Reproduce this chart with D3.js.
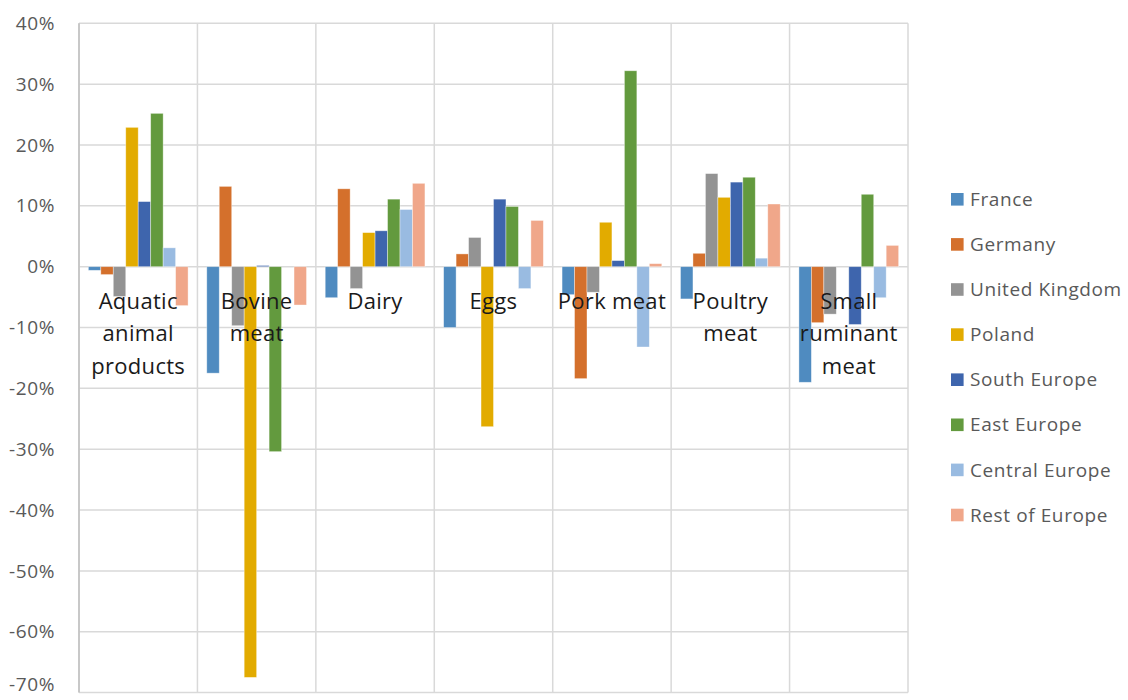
<!DOCTYPE html>
<html>
<head>
<meta charset="utf-8">
<script src="https://cdn.jsdelivr.net/npm/d3@7"></script>
<style>
  html, body { margin: 0; padding: 0; background: #fff; }
  svg { display: block; }
</style>
</head>
<body>
<svg id="chart" width="1128" height="700"></svg>
<script>
// ---- Data ----
const categories = [
  ["Aquatic", "animal", "products"],
  ["Bovine", "meat"],
  ["Dairy"],
  ["Eggs"],
  ["Pork meat"],
  ["Poultry", "meat"],
  ["Small", "ruminant", "meat"]
];
const seriesNames = ["France", "Germany", "United Kingdom", "Poland", "South Europe", "East Europe", "Central Europe", "Rest of Europe"];
const seriesColors = ["#4f8bc0", "#d4702c", "#939393", "#e2ab00", "#3e65ad", "#639a3e", "#99bbe1", "#f0a78a"];
// values in % per series, one per category
const france   = [-0.6, -17.5, -5.1, -10.0, -4.6, -5.3, -19.0];
const germany  = [-1.3, 13.2, 12.8, 2.1, -18.4, 2.2, -9.2];
const uk       = [-4.9, -9.7, -3.6, 4.8, -4.2, 15.3, -7.8];
const poland   = [22.9, -67.5, 5.6, -26.3, 7.3, 11.4, 0];
const southEu  = [10.7, 0.2, 5.9, 11.1, 1.0, 13.9, -9.5];
const eastEu   = [25.2, -30.4, 11.1, 9.9, 32.2, 14.7, 11.9];
const centralEu= [3.1, 0, 9.4, -3.6, -13.2, 1.4, -5.1];
const restEu   = [-6.4, -6.3, 13.7, 7.6, 0.5, 10.3, 3.5];
const seriesValues = [france, germany, uk, poland, southEu, eastEu, centralEu, restEu];
const yTicks = [40, 30, 20, 10, 0, -10, -20, -30, -40, -50, -60, -70];

// ---- Layout ----
const svg = d3.select("#chart");
const plotLeft = 79, plotRight = 908, plotTop = 23.3, plotBottom = 692.6;

const x0 = d3.scaleBand().domain(d3.range(categories.length)).range([plotLeft, plotRight]).paddingInner(0).paddingOuter(0);
const x1 = d3.scaleBand().domain(d3.range(seriesNames.length)).range([0, x0.bandwidth()]).paddingOuter(0.75).paddingInner(0);
const y = d3.scaleLinear().domain([-70, 40]).range([plotBottom, plotTop]);

const grid = svg.append("g");
grid.selectAll("line.h").data(yTicks).enter().append("line")
  .attr("x1", plotLeft).attr("x2", plotRight)
  .attr("y1", d => y(d)).attr("y2", d => y(d))
  .attr("stroke", "#d9d9d9").attr("stroke-width", 1.5);
const vlines = d3.range(categories.length + 1).map(i => i < categories.length ? x0(i) : plotRight);
grid.selectAll("line.v").data(vlines).enter().append("line")
  .attr("x1", d => d).attr("x2", d => d)
  .attr("y1", plotTop).attr("y2", plotBottom)
  .attr("stroke", "#d9d9d9").attr("stroke-width", 1.5);
grid.append("line").attr("x1", plotLeft).attr("x2", plotLeft).attr("y1", plotTop).attr("y2", plotBottom)
  .attr("stroke", "#bfbfbf").attr("stroke-width", 1.5);

svg.append("g").selectAll("text").data(yTicks).enter().append("text")
  .attr("x", 55).attr("y", d => Math.min(y(d), 684)).attr("dy", "0.35em")
  .attr("text-anchor", "end")
  .attr("font-family", "Open Sans, sans-serif").attr("font-size", 19)
  .attr("letter-spacing", 0.6)
  .attr("fill", "#595959")
  .text(d => d + "%");

const groups = svg.append("g").selectAll("g").data(categories).enter().append("g")
  .attr("transform", (d, i) => `translate(${x0(i)},0)`);
groups.each(function(c, ci) {
  d3.select(this).selectAll("rect").data(seriesValues.map((s, si) => ({si, v: s[ci]}))).enter()
    .append("rect")
    .attr("x", d => x1(d.si))
    .attr("width", x1.bandwidth())
    .attr("y", d => y(Math.max(0, d.v)))
    .attr("height", d => Math.abs(y(d.v) - y(0)))
    .attr("fill", d => seriesColors[d.si])
    .attr("stroke", "#ffffff").attr("stroke-opacity", 0.5).attr("stroke-width", 0.75);
});

const lab = svg.append("g");
categories.forEach((lines, i) => {
  const cx = x0(i) + x0.bandwidth() / 2;
  const t = lab.append("text")
    .attr("x", cx)
    .attr("y", 308.5)
    .attr("text-anchor", "middle")
    .attr("font-family", "Open Sans, sans-serif").attr("font-size", 22)
    .attr("letter-spacing", 0.3)
    .attr("fill", "#1a1a1a");
  lines.forEach((ln, k) => {
    t.append("tspan").attr("x", cx).attr("dy", k === 0 ? 0 : 32.5).text(ln);
  });
});

const legend = svg.append("g");
seriesNames.forEach((name, i) => {
  const cy = 199.3 + i * 45.1;
  legend.append("rect").attr("x", 951).attr("y", cy - 6.3).attr("width", 12.6).attr("height", 12.6)
    .attr("fill", seriesColors[i]);
  legend.append("text").attr("x", 970).attr("y", cy).attr("dy", "0.35em")
    .attr("font-family", "Open Sans, sans-serif").attr("font-size", 19)
    .attr("letter-spacing", 0.6)
    .attr("fill", "#595959").text(name);
});
</script>
</body>
</html>
